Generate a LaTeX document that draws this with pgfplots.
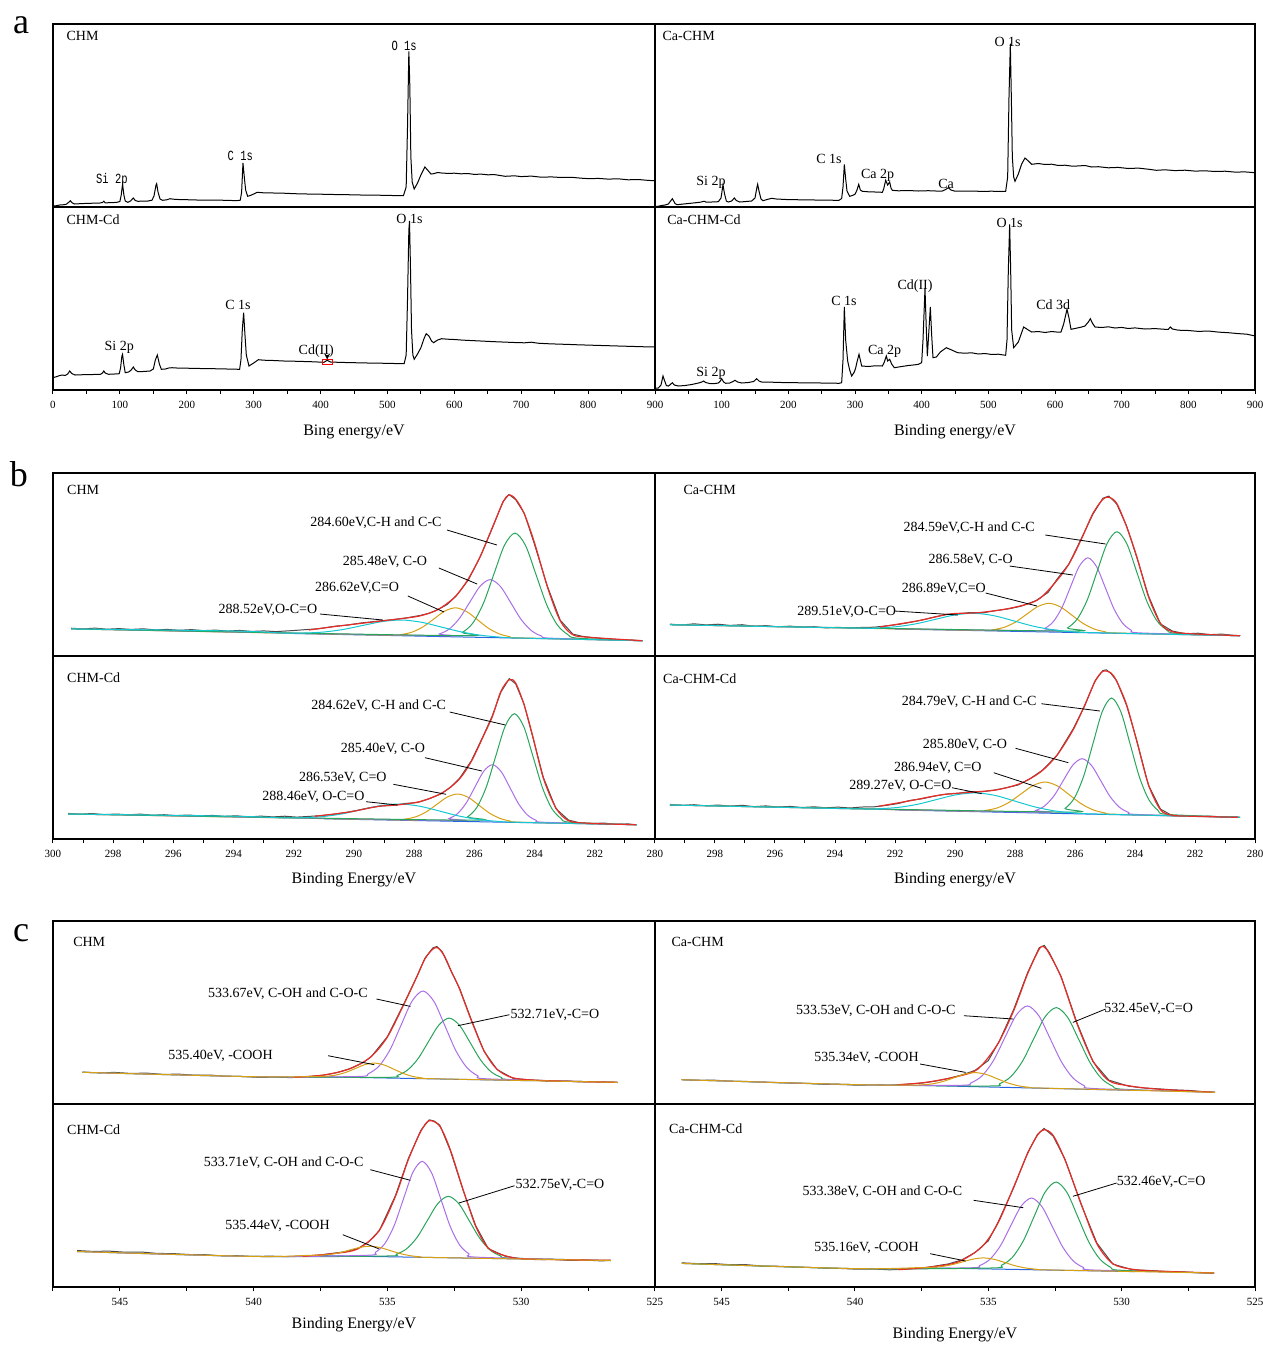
\documentclass[border=0pt]{standalone}
\usepackage{fontspec}
\setmainfont{Liberation Serif}
\newfontfamily\narrowmono{Liberation Mono}[FakeStretch=0.75]
\usepackage{pgfplots}
\pgfplotsset{compat=1.18}
\definecolor{cred}{RGB}{230,45,40}
\definecolor{cgreen}{RGB}{40,165,90}
\definecolor{cpurple}{RGB}{170,110,230}
\definecolor{corange}{RGB}{215,160,20}
\definecolor{ccyan}{RGB}{20,200,210}
\definecolor{cblue}{RGB}{40,100,225}
\definecolor{craw}{RGB}{75,75,75}
\pgfplotsset{
 panel/.style={scale only axis, height=91.5pt, ymin=0, ymax=183, ytick=\empty, clip=false,
   axis line style={line width=0.6pt, black}, every tick/.style={black, line width=0.5pt},
   tick align=outside, major tick length=2.2pt, minor tick length=1.8pt,
   tick label style={font=\fontsize{5.5}{6}\selectfont},
   /pgf/number format/assume math mode=true, anchor=north west},
 toprow/.style={xtick=\empty, minor xtick=\empty},
 botrow/.style={xtick pos=bottom},
 lw/.style={width=301pt}, rw/.style={width=300pt},
 surv/.style={xmin=0, xmax=900, xtick={0,100,...,900}, minor x tick num=1},
 cs/.style={xmin=280, xmax=300, x dir=reverse, xtick={280,282,...,300}, minor x tick num=1},
 os/.style={xmin=525, xmax=547.5, x dir=reverse, xtick={525,530,...,545}, minor xtick={527.5,532.5,537.5,542.5,547.5}},
 spec/.style={sharp plot, black, line width=0.5pt, mark=none},
 comp/.style={smooth, line width=0.5pt, mark=none},
 raw/.style={sharp plot, craw, line width=0.5pt, mark=none},
 env/.style={smooth, cred, line width=0.6pt, mark=none},
 bg/.style={sharp plot, cblue, line width=0.5pt, mark=none},
}
\tikzset{ann/.style={font=\fontsize{7}{8}\selectfont, inner sep=0pt},
 pname/.style={font=\fontsize{7}{8}\selectfont, anchor=west, inner sep=0pt},
 lead/.style={black, line width=0.4pt},
 xl/.style={font=\fontsize{8}{9}\selectfont, inner sep=0pt}}
\begin{document}
\begin{tikzpicture}
\path[use as bounding box] (0,0) rectangle (631.5pt,-672.5pt);
\node[font=\fontsize{18}{20}\selectfont, inner sep=0pt] at (10.5pt,-12.5pt) {a};
\node[font=\fontsize{18}{20}\selectfont, inner sep=0pt] at (9.5pt,-237pt) {b};
\node[font=\fontsize{18}{20}\selectfont, inner sep=0pt] at (10.5pt,-466.5pt) {c};

% ---------------- a1 CHM survey
\begin{axis}[panel, lw, surv, toprow, at={(26.5pt,-12pt)}]
\addplot[spec] coordinates {(0,1.0)(5,1.3)(10,2.0)(15,2.2)(20,2.8)(24,5.0)(26,6.3)(28,4.5)(32,3.0)(40,3.3)(50,3.6)(60,3.8)(70,4.0)(74,4.5)(76,5.8)(78,4.2)(85,4.3)(95,4.6)(100,5.5)(102,12)(104,23)(106,12)(108,6)(112,4.7)(116,6)(120,9.0)(123,6.5)(127,5.7)(135,5.9)(142,6.0)(148,6.8)(151,11)(154,22)(155,23.3)(157,15)(160,8)(164,6.7)(170,7.2)(175,8.3)(180,7.8)(190,7.4)(200,7.3)(215,7.0)(230,6.8)(245,7.0)(260,6.6)(275,6.4)(280,6.8)(282,15)(284,44)(286,30)(288,17)(291,10.7)(295,11.5)(300,13)(305,14.7)(315,14.2)(330,14.0)(345,13.8)(361,13.3)(380,13.0)(400,12.8)(420,12.5)(440,12.3)(460,12.0)(480,11.9)(500,11.6)(515,11.4)(524,11.5)(528,20)(530,80)(532,155.7)(533.5,120)(535,50)(537,25)(540,18)(545,24)(550,32)(556,40)(560,37)(565,33)(569,33.3)(575,34.5)(581,34)(590,33.6)(600,33.8)(610,33.2)(620,33.5)(630,32.6)(640,32.9)(650,32.2)(660,32.4)(676,30.7)(690,31.2)(700,30.4)(715,30.9)(730,29.8)(745,30.1)(760,29.5)(775,29.7)(790,28.8)(802,28.3)(815,28.6)(830,27.9)(845,28.2)(860,27.2)(875,27.5)(890,26.6)(900,26.3)};
\node[pname] at (rel axis cs:0.022,0.934) {CHM};
\node[ann, font=\narrowmono\fontsize{7}{8}\selectfont] at (axis cs:525,161) {O 1s};
\node[ann, font=\narrowmono\fontsize{7}{8}\selectfont] at (axis cs:280,51) {C 1s};
\node[ann, font=\narrowmono\fontsize{7}{8}\selectfont] at (axis cs:88,27) {Si 2p};
\end{axis}

% ---------------- a2 Ca-CHM survey
\begin{axis}[panel, rw, surv, toprow, at={(327.5pt,-12pt)}]
\addplot[spec] coordinates {(0,0.5)(5,0.8)(10,1.5)(15,2.0)(20,3.0)(24,6.5)(26,8.3)(28,6)(30,3.5)(33,2.3)(40,2.8)(50,3.5)(60,4.2)(68,4.8)(72,5.5)(74,5.7)(76,5.0)(85,5.0)(95,5.3)(99,9)(102,22.3)(104,14)(107,6)(110,5)(115,6)(119,9.0)(122,6.5)(127,5)(135,5.4)(145,6.0)(150,9)(153,20)(154,22.7)(156,16)(159,8)(162,6.3)(168,7.5)(175,8.7)(182,8.0)(200,7.4)(220,7.2)(240,7.0)(260,6.8)(276,6.7)(280,8.5)(282,20)(284,42.7)(286,28)(288,16)(292,10.7)(296,11.5)(300,12.7)(303,17)(305.6,22.7)(308,17)(311,15.7)(320,15.2)(330,15.0)(341,14.7)(343,18)(346,26.7)(349,22)(352,25)(354,19)(356,16.7)(365,16.2)(380,16.5)(395,16.0)(410,16.3)(425,15.9)(431,16.0)(436,17.5)(440,19.3)(444,17)(449,16.0)(460,15.8)(475,16.0)(490,15.6)(505,15.8)(520,15.5)(526,15.7)(529,30)(531,110)(533,163.3)(534.5,110)(536,50)(538,30)(540,25.7)(545,33)(550,43)(555,49)(560,46)(565,42.7)(575,43.5)(585,42.5)(595,42.8)(605,41.5)(615,41.8)(625,40.9)(633,41.0)(645,41.5)(655,40.0)(665,40.3)(680,39.2)(695,39.6)(710,38.5)(725,38.9)(740,37.8)(752,36.7)(765,37.2)(780,36.4)(795,36.8)(810,35.9)(825,36.2)(840,35.5)(855,35.8)(870,34.9)(885,35.1)(900,34.3)};
\node[pname] at (rel axis cs:0.012,0.934) {Ca-CHM};
\node[ann] at (axis cs:529,165) {O 1s};
\node[ann] at (axis cs:261,48) {C 1s};
\node[ann] at (axis cs:334,31.7) {Ca 2p};
\node[ann] at (axis cs:436.6,23.3) {Ca};
\node[ann] at (axis cs:84,25) {Si 2p};
\end{axis}

% ---------------- a3 CHM-Cd survey
\begin{axis}[panel, lw, surv, botrow, at={(26.5pt,-103.5pt)}]
\addplot[spec] coordinates {(0,12.3)(6,13.5)(10,14.5)(14,15)(18,14.5)(22,16)(25,19)(28,16.5)(33,15)(45,15.3)(60,15.5)(71,15.7)(74,17)(76,19)(78,17)(83,15.7)(92,16.0)(99,16.3)(101,22)(103,34)(104,35.7)(106,25)(108,17.3)(113,18)(117,20)(120,23)(123,20)(127,18.3)(135,18.5)(145,19)(150,21)(153,30)(156,35)(159,26)(162,20.7)(168,21)(173,22)(178,22.3)(185,22.0)(200,21.8)(220,21.5)(240,21.3)(260,21.0)(279,20.7)(281,30)(283,60)(285,77.3)(287,55)(289,35)(293,24)(300,27)(307,30.3)(315,29.8)(330,29.5)(345,29.0)(360,28.8)(375,28.5)(390,28.2)(405,27.7)(410,29.7)(415,28.0)(430,27.6)(450,27.3)(470,27.0)(490,26.8)(510,26.5)(525,26.3)(528,35)(530,90)(532,160)(533,169)(534.5,120)(536,60)(538,35)(540,30.7)(545,36)(550,42.3)(555,52)(558,56.3)(562,54)(566,49)(569,47.3)(575,50)(581,51.3)(590,50.8)(600,50.5)(610,50.0)(620,49.6)(630,49.3)(645,48.8)(660,48.3)(675,47.9)(690,47.5)(705,47.2)(715,47.8)(725,46.8)(739,46.3)(755,45.9)(770,45.6)(785,45.2)(800,44.9)(815,44.6)(830,44.3)(845,44.0)(860,43.7)(875,43.4)(890,43.1)(900,43.0)};
\node[pname] at (rel axis cs:0.022,0.929) {CHM-Cd};
\node[ann] at (axis cs:533,170.7) {O 1s};
\node[ann] at (axis cs:276.6,85) {C 1s};
\node[ann] at (axis cs:99,42.3) {Si 2p};
\node[ann] at (axis cs:393.5,39) {Cd(II)};
\draw[red, line width=0.5pt] (axis cs:403.6,25.7) rectangle (axis cs:417.5,30.5);
\draw[black, line width=0.4pt, -stealth] (axis cs:410,35.5) -- (axis cs:410,30.5);
\node[xl] at ([yshift=-21pt]rel axis cs:0.5,0) {Bing energy/eV};
\end{axis}

% ---------------- a4 Ca-CHM-Cd survey
\begin{axis}[panel, rw, surv, botrow, at={(327.5pt,-103.5pt)}, xticklabels={{},100,200,300,400,500,600,700,800,900}]
\addplot[spec] coordinates {(0,1.7)(5,2)(9,5)(12,14)(14,10)(17,4.5)(20,4)(23,5.5)(26,7.3)(29,5)(35,4)(45,4.5)(55,5.5)(62,6.5)(67,7.3)(70,8)(73,9)(76,7.5)(82,6.5)(88,6.3)(95,7)(98,9)(100,11.3)(103,8)(106,6.7)(112,7)(117,8.5)(120,9.7)(124,8)(130,7)(140,7.5)(148,8.5)(152.5,11.3)(156,9)(160,8)(175,7.8)(190,7.5)(210,7.3)(230,7.1)(250,7.0)(265,6.9)(276,6.7)(280,7.3)(282,30)(284,83)(286,50)(289,29)(292,20)(295,14)(299,18)(301,22)(303,28)(306,35.7)(308,30)(310,24)(320,23.5)(330,24.2)(341,24.0)(344,28)(347,34)(349,29)(352,30.7)(355,26)(359,22.3)(370,23.5)(380,24.5)(390,25.2)(395,25.7)(400,27.3)(402,50)(405,101.7)(407,60)(408.5,34)(410,50)(413,83)(415,55)(417,32.3)(422,33)(428,38)(437,42.3)(445,40)(454,37.3)(465,36.8)(475,37.2)(485,36.0)(495,36.5)(505,35.5)(515,35.8)(526,34.7)(528,50)(530,120)(532,165.7)(533.5,120)(535,60)(538,42.3)(545,48)(553,63)(560,60)(565,58)(575,58.5)(585,57.5)(595,58.5)(605,57.8)(609,58)(613,66)(618,80.7)(621,72)(624,60.7)(630,61.5)(640,63)(645,64)(650,68)(653,71.3)(656,67)(660,63)(670,62.5)(680,63.2)(690,62.0)(700,62.6)(710,61.5)(720,62.1)(735,61.0)(750,61.4)(765,60.7)(770,60.7)(773,63)(776,61)(785,59.8)(800,59.5)(815,58.6)(830,59.0)(845,57.9)(860,57.3)(875,56.4)(888,55.8)(900,54.0)};
\node[pname] at (rel axis cs:0.02,0.929) {Ca-CHM-Cd};
\node[ann] at (axis cs:532,167.3) {O 1s};
\node[ann] at (axis cs:283.5,89) {C 1s};
\node[ann] at (axis cs:390,104) {Cd(II)};
\node[ann] at (axis cs:597.4,85.7) {Cd 3d};
\node[ann] at (axis cs:344.4,38.3) {Ca 2p};
\node[ann] at (axis cs:84,16.7) {Si 2p};
\node[xl] at ([yshift=-21pt]rel axis cs:0.5,0) {Binding energy/eV};
\end{axis}

% ---------------- b1 CHM C1s
\begin{axis}[panel, lw, cs, toprow, at={(26.5pt,-236.5pt)}]
\addplot[raw] coordinates {(299.4,27.8)(299.0,27.1)(298.6,27.9)(298.2,26.8)(297.8,27.4)(297.4,26.6)(297.0,27.2)(296.6,26.1)(296.2,26.6)(295.8,25.7)(295.4,26.4)(295.0,25.4)(294.6,25.9)(294.2,24.9)(293.8,25.6)(293.4,24.6)(293.0,25.1)(292.6,24.4)(292.0,25.5)(291.6,26.4)(291.2,27.2)(290.6,29.9)(290.2,31.0)(289.8,32.9)(289.2,34.9)(288.8,36.1)(288.3,37.9)(287.8,40.6)(287.5,42.8)(287.2,46.6)(286.9,51.6)(286.6,60.2)(286.2,76.1)(285.8,99.5)(285.4,128.2)(285.05,154.4)(284.85,161.5)(284.63,156.4)(284.34,142.6)(284.0,111.3)(283.57,69.4)(283.15,35.9)(282.73,21.9)(282.4,19.6)(282.0,18.1)(281.6,17.2)(281.2,16.3)(280.8,15.9)(280.4,15.3)};
\addplot[bg] coordinates {(280.4,15.3)(292,22.5)};
\addplot[comp, corange] coordinates {(280.4,15.3)(284.46,18.1)(284.82,19.3)(285.18,22.2)(285.54,27.9)(285.90,36.3)(286.26,44.5)(286.62,48.2)(286.98,45.0)(287.34,37.2)(287.70,29.3)(288.06,24.0)(288.42,21.5)(288.78,20.8)(299.4,27.1)};
\addplot[comp, cpurple] coordinates {(280.4,15.3)(283.43,17.8)(283.77,19.9)(284.11,25.5)(284.45,36.6)(284.79,53.2)(285.13,69.4)(285.47,76.4)(285.81,69.8)(286.15,54.0)(286.49,37.9)(286.83,27.1)(287.17,22.0)(287.51,20.4)(299.4,27.1)};
\addplot[comp, cgreen] coordinates {(280.4,15.3)(282.55,17.8)(282.90,21.5)(283.25,31.3)(283.60,51.4)(283.95,81.2)(284.30,110.4)(284.65,122.9)(285.00,110.8)(285.35,82.1)(285.70,52.7)(286.05,33.0)(286.40,23.6)(286.75,20.4)(299.4,27.1)};
\addplot[comp, ccyan] coordinates {(280.4,15.3)(284.5,18.0)(285.15,18.9)(285.8,20.8)(286.45,24.2)(287.1,29.0)(287.75,33.7)(288.4,36.0)(289.05,34.5)(289.7,30.6)(290.35,26.6)(291.0,24.0)(291.65,23.0)(292.3,22.9)(294,25.0)(299.4,27.1)};
\addplot[env] coordinates {(291.5,26.0)(290.58,29.7)(289.18,34.7)(288.34,37.7)(287.78,40.3)(287.22,46.3)(286.66,58.7)(286.24,75.3)(285.82,98.7)(285.40,128.7)(285.05,153.7)(284.86,161)(284.63,157)(284.34,142)(283.99,112)(283.57,68.7)(283.15,35.3)(282.73,21.3)(282.17,18.7)(280.42,15.3)};
\node[pname] at (rel axis cs:0.023,0.907) {CHM};
\node[ann] at (axis cs:289.27,133) {284.60eV,C-H and C-C};
\draw[lead] (axis cs:286.91,126) -- (axis cs:285.25,111);
\node[ann] at (axis cs:288.97,94) {285.48eV, C-O};
\draw[lead] (axis cs:287.18,88) -- (axis cs:285.91,72);
\node[ann] at (axis cs:289.90,68) {286.62eV,C=O};
\draw[lead] (axis cs:288.21,60) -- (axis cs:287.01,44);
\node[ann] at (axis cs:292.86,46) {288.52eV,O-C=O};
\draw[lead] (axis cs:291.13,42) -- (axis cs:289.04,36);
\end{axis}

% ---------------- b2 Ca-CHM C1s
\begin{axis}[panel, rw, cs, toprow, at={(327.5pt,-236.5pt)}]
\addplot[raw] coordinates {(299.5,31.9)(299.1,31.0)(298.7,32.2)(298.3,31.1)(297.9,31.8)(297.5,30.6)(297.1,31.3)(296.7,29.8)(296.3,30.4)(295.9,29.2)(295.5,29.9)(295.1,28.9)(294.7,29.3)(294.3,28.1)(293.9,28.7)(293.5,27.9)(293.1,28.6)(292.7,28.8)(292.3,30.1)(291.9,31.5)(291.5,33.6)(291.1,36.0)(290.7,38.9)(290.3,41.6)(289.9,42.1)(289.5,43.5)(289.1,43.0)(288.7,45.1)(288.2,47.2)(287.8,49.8)(287.3,55.4)(286.9,63.5)(286.6,76.8)(286.2,92.1)(285.8,116.8)(285.4,142.0)(285.07,157.8)(284.87,159.9)(284.61,152.0)(284.28,130.1)(283.94,98.6)(283.55,60.1)(283.15,32.0)(282.75,24.9)(282.3,22.2)(281.9,22.8)(281.5,21.4)(281.1,21.9)(280.7,20.6)(280.5,20.4)};
\addplot[bg] coordinates {(280.5,20.3)(292,27.0)};
\addplot[comp, corange] coordinates {(280.5,20.3)(284.61,23.0)(284.985,24.2)(285.36,27.0)(285.735,32.7)(286.11,41.0)(286.485,49.1)(286.86,52.7)(287.235,49.5)(287.61,41.8)(287.985,33.9)(288.36,28.7)(288.735,26.3)(289.11,25.6)(299.5,31.3)};
\addplot[comp, cpurple] coordinates {(280.5,20.3)(283.83,23.1)(284.12,25.7)(284.41,32.7)(284.70,47.1)(284.99,68.4)(285.28,89.3)(285.57,98.2)(285.86,89.6)(286.15,69.1)(286.44,48.1)(286.73,34.1)(287.02,27.4)(287.31,25.1)(299.5,31.3)};
\addplot[comp, cgreen] coordinates {(280.5,20.3)(282.62,22.7)(282.95,26.2)(283.28,35.7)(283.61,55.1)(283.94,83.9)(284.27,112.1)(284.6,124.3)(284.93,112.5)(285.26,84.7)(285.59,56.2)(285.92,37.2)(286.25,28.1)(286.58,25.0)(299.5,31.3)};
\addplot[comp, ccyan] coordinates {(280.5,20.3)(285.45,23.4)(286.10,24.3)(286.75,26.3)(287.40,29.9)(288.05,35.2)(288.70,40.3)(289.35,42.7)(290.00,41.1)(290.65,36.7)(291.30,32.2)(291.95,29.3)(292.60,28.1)(293.25,27.9)(299.5,31.3)};
\addplot[env] coordinates {(292.5,29.0)(291.22,35.3)(290.17,42)(289.24,43.3)(288.18,47.7)(287.25,56)(286.59,76)(286.19,92.7)(285.80,116)(285.40,142.7)(285.07,156.7)(284.87,158.7)(284.61,152.7)(284.28,129.3)(283.94,99.3)(283.55,59.3)(283.15,32.7)(282.75,24.3)(281.96,22)(280.5,20.3)};
\node[pname] at (rel axis cs:0.047,0.907) {Ca-CHM};
\node[ann] at (axis cs:289.53,128) {284.59eV,C-H and C-C};
\draw[lead] (axis cs:286.99,121) -- (axis cs:284.98,112);
\node[ann] at (axis cs:289.48,96) {286.58eV, C-O};
\draw[lead] (axis cs:288.18,90) -- (axis cs:286.07,81);
\node[ann] at (axis cs:290.37,67) {286.89eV,C=O};
\draw[lead] (axis cs:288.98,63) -- (axis cs:287.27,50);
\node[ann] at (axis cs:293.61,44) {289.51eV,O-C=O};
\draw[lead] (axis cs:292.02,45) -- (axis cs:289.90,41);
\end{axis}

% ---------------- b3 CHM-Cd C1s
\begin{axis}[panel, lw, cs, botrow, at={(26.5pt,-328pt)}]
\addplot[raw] coordinates {(299.5,25.6)(299.1,24.8)(298.7,25.5)(298.3,24.4)(297.9,25.0)(297.5,24.2)(297.1,24.9)(296.7,23.8)(296.3,24.3)(295.9,23.4)(295.5,24.0)(295.1,23.1)(294.7,23.6)(294.3,22.7)(293.9,23.2)(293.5,22.0)(293.1,22.9)(292.7,22.1)(292.3,22.8)(291.9,21.9)(291.5,22.6)(291.1,23.4)(290.7,24.6)(290.3,26.4)(289.9,28.6)(289.5,31.2)(289.1,33.0)(288.7,33.6)(288.3,35.6)(287.9,36.4)(287.5,40.2)(287.1,45.3)(286.8,51.5)(286.5,60.4)(286.1,78.3)(285.7,103.5)(285.4,123.6)(285.12,146.9)(284.84,160.4)(284.63,155.2)(284.35,135.0)(284.06,101.8)(283.71,61.7)(283.29,30.3)(282.87,18.9)(282.5,16.2)(282.1,15.4)(281.7,16.0)(281.3,14.6)(280.9,15.1)(280.6,14.2)};
\addplot[bg] coordinates {(280.6,14.3)(291,20.2)};
\addplot[comp, corange] coordinates {(280.6,14.3)(284.45,16.8)(284.80,17.9)(285.15,20.6)(285.50,25.9)(285.85,33.8)(286.20,41.6)(286.55,45.0)(286.90,42.0)(287.25,34.6)(287.60,27.1)(287.95,22.2)(288.30,19.9)(288.65,19.2)(299.5,25.0)};
\addplot[comp, cpurple] coordinates {(280.6,14.3)(283.66,16.7)(283.95,18.7)(284.24,24.1)(284.53,35.1)(284.82,51.4)(285.11,67.4)(285.40,74.3)(285.69,67.8)(285.98,52.1)(286.27,36.1)(286.56,25.4)(286.85,20.4)(287.14,18.7)(299.5,25.0)};
\addplot[comp, cgreen] coordinates {(280.6,14.3)(282.81,16.8)(283.12,20.5)(283.43,30.6)(283.74,51.4)(284.05,82.2)(284.36,112.4)(284.67,125.3)(284.98,112.7)(285.29,82.9)(285.60,52.4)(285.91,32.0)(286.22,22.3)(286.53,18.9)(299.5,25.0)};
\addplot[comp, ccyan] coordinates {(280.6,14.3)(284.55,16.7)(285.20,17.6)(285.85,19.5)(286.50,22.9)(287.15,27.9)(287.80,32.7)(288.45,35.0)(289.10,33.5)(289.75,29.4)(290.40,25.1)(291.05,22.4)(291.70,21.3)(292.35,21.1)(294,22.8)(299.5,25.0)};
\addplot[env] coordinates {(291.3,22.7)(290.16,27)(289.18,32.7)(288.48,34.3)(287.78,37.7)(287.08,46)(286.52,59.3)(286.10,77.7)(285.68,104.3)(285.40,122.7)(285.12,147.7)(284.84,159.3)(284.63,156)(284.35,134.3)(284.06,102.7)(283.71,61)(283.29,31)(282.87,18.3)(282.17,15.7)(280.63,14.3)};
\node[pname] at (rel axis cs:0.023,0.88) {CHM-Cd};
\node[ann] at (axis cs:289.18,133) {284.62eV, C-H and C-C};
\draw[lead] (axis cs:286.82,127) -- (axis cs:284.97,114);
\node[ann] at (axis cs:289.04,90.3) {285.40eV, C-O};
\draw[lead] (axis cs:287.64,81.3) -- (axis cs:285.75,68);
\node[ann] at (axis cs:290.37,61.3) {286.53eV, C=O};
\draw[lead] (axis cs:288.69,54.7) -- (axis cs:286.94,44.7);
\node[ann] at (axis cs:291.35,42.3) {288.46eV, O-C=O};
\draw[lead] (axis cs:289.6,37.3) -- (axis cs:288.55,34);
\node[xl] at ([yshift=-20.5pt]rel axis cs:0.5,0) {Binding Energy/eV};
\end{axis}

% ---------------- b4 Ca-CHM-Cd C1s
\begin{axis}[panel, rw, cs, botrow, at={(327.5pt,-328pt)}, xticklabels={280,282,284,286,288,290,292,294,296,298,{}}]
\addplot[raw] coordinates {(299.5,34.6)(299.1,33.6)(298.7,34.3)(298.3,33.2)(297.9,34.0)(297.5,32.9)(297.1,33.7)(296.7,32.4)(296.3,33.1)(295.9,32.0)(295.5,32.6)(295.1,31.5)(294.7,32.2)(294.3,31.2)(293.9,31.9)(293.5,31.0)(293.1,32.0)(292.7,32.2)(292.3,33.6)(291.9,35.4)(291.5,38.6)(291.1,40.2)(290.7,42.8)(290.3,44.9)(289.9,45.6)(289.5,47.5)(289.1,47.2)(288.7,48.9)(288.3,51.2)(287.9,54.0)(287.5,60.3)(287.1,68.5)(286.6,83.6)(286.06,110.2)(285.67,133.6)(285.33,158.4)(285.07,168.5)(284.95,169.2)(284.80,165.4)(284.61,158.3)(284.28,133.6)(283.94,98.5)(283.55,53.6)(283.15,29.9)(282.75,23.2)(282.3,23.4)(281.9,22.4)(281.5,22.9)(281.1,21.8)(280.7,22.3)(280.5,21.6)};
\addplot[bg] coordinates {(280.5,21.7)(292,29.1)};
\addplot[comp, corange] coordinates {(280.5,21.7)(284.59,24.7)(284.99,26.0)(285.39,29.1)(285.79,35.2)(286.19,44.2)(286.59,53.1)(286.99,57.0)(287.39,53.6)(287.79,45.3)(288.19,36.8)(288.59,31.1)(288.99,28.6)(289.39,27.8)(299.5,34.0)};
\addplot[comp, cpurple] coordinates {(280.5,21.7)(283.90,24.5)(284.21,26.5)(284.52,31.8)(284.83,42.4)(285.14,58.2)(285.45,73.6)(285.76,80.3)(286.07,74.0)(286.38,59.0)(286.69,43.6)(287.00,33.4)(287.31,28.5)(287.62,26.9)(299.5,34.0)};
\addplot[comp, cgreen] coordinates {(280.5,21.7)(282.92,24.6)(283.23,28.6)(283.54,39.4)(283.85,61.7)(284.16,94.7)(284.47,127.1)(284.78,141.0)(285.09,127.5)(285.40,95.5)(285.71,62.9)(286.02,41.0)(286.33,30.6)(286.64,27.0)(299.5,34.0)};
\addplot[comp, ccyan] coordinates {(280.5,21.7)(285.40,25.1)(286.05,26.1)(286.70,28.2)(287.35,32.2)(288.00,37.9)(288.65,43.5)(289.30,46.1)(289.95,44.3)(290.60,39.6)(291.25,34.7)(291.90,31.6)(292.55,30.3)(293.20,30.1)(299.5,34.0)};
\addplot[env] coordinates {(292.55,32.7)(291.49,38.3)(290.43,44.3)(289.37,47)(288.58,49.3)(287.78,56)(287.12,67.7)(286.59,84.3)(286.06,109.3)(285.67,134.3)(285.33,157.7)(285.07,167.7)(284.80,166)(284.61,157.7)(284.28,134.3)(283.94,97.7)(283.55,54.3)(283.15,29.3)(282.75,23.7)(281.96,22.7)(280.57,21.7)};
\node[pname] at (rel axis cs:0.013,0.874) {Ca-CHM-Cd};
\node[ann] at (axis cs:289.53,137.3) {284.79eV, C-H and C-C};
\draw[lead] (axis cs:287.12,135.3) -- (axis cs:285.17,128);
\node[ann] at (axis cs:289.67,94) {285.80eV, C-O};
\draw[lead] (axis cs:287.98,90.7) -- (axis cs:286.22,76.3);
\node[ann] at (axis cs:290.57,71.3) {286.94eV, C=O};
\draw[lead] (axis cs:288.71,66.3) -- (axis cs:287.12,50.7);
\node[ann] at (axis cs:291.82,53) {289.27eV, O-C=O};
\draw[lead] (axis cs:290.1,51.3) -- (axis cs:289.11,45.3);
\node[xl] at ([yshift=-20.5pt]rel axis cs:0.5,0) {Binding energy/eV};
\end{axis}

% ---------------- c1 CHM O1s
\begin{axis}[panel, lw, os, toprow, at={(26.5pt,-460.5pt)}]
\addplot[raw] coordinates {(546.4,31.9)(545.8,31.2)(545.2,31.6)(544.6,30.6)(544.0,30.9)(543.4,29.6)(542.8,29.9)(542.2,28.8)(541.6,28.9)(541.0,27.6)(540.4,27.5)(539.8,26.6)(539.2,26.9)(538.6,26.4)(538.0,27.3)(537.4,28.8)(536.9,31.3)(536.4,35.4)(535.9,41.5)(535.6,47.5)(535.0,67.4)(534.4,99.4)(533.9,127.5)(533.6,145.8)(533.3,156.2)(533.15,157.5)(532.95,152.2)(532.6,131.6)(532.3,115.5)(531.86,83.9)(531.39,52.7)(530.9,34.4)(530.3,25.6)(529.7,24.2)(529.0,22.8)(528.4,23.0)(527.8,22.1)(527.2,22.3)(526.4,21.5)};
\addplot[bg] coordinates {(529.5,23.25)(537.5,27.25)};
\addplot[comp, cgreen] coordinates {(526.4,21.7)(530.35,24.4)(530.74,26.6)(531.13,32.3)(531.52,44.1)(531.91,61.5)(532.30,78.5)(532.69,85.9)(533.08,78.9)(533.47,62.2)(533.86,45.2)(534.25,33.9)(534.64,28.5)(535.03,26.7)(540,27.3)(546.4,31.7)};
\addplot[comp, cpurple] coordinates {(526.4,21.7)(531.21,25.1)(531.62,28.2)(532.03,36.4)(532.44,53.2)(532.85,78.1)(533.26,102.5)(533.67,113.0)(534.08,102.9)(534.49,78.9)(534.90,54.4)(535.31,38.0)(535.72,30.2)(536.13,27.5)(540,27.3)(546.4,31.7)};
\addplot[env] coordinates {(538.48,26.7)(537.38,29)(536.43,35)(535.64,46.7)(535.01,66.7)(534.38,100)(533.91,126.7)(533.6,145)(533.3,155)(533.1,156)(532.85,147)(532.6,132)(532.33,116.7)(531.86,83.3)(531.39,53.3)(530.91,35)(530.28,26)(529.02,23.3)(526.42,21.7)};
\addplot[comp, corange] coordinates {(526.4,21.7)(533.32,25.3)(533.68,26.0)(534.04,27.5)(534.40,30.5)(534.76,34.8)(535.12,39.0)(535.48,40.9)(535.84,39.4)(536.20,35.5)(536.56,31.6)(536.92,29.0)(537.28,27.8)(537.64,27.5)(540,27.3)(546.4,31.7)};
\node[pname] at (rel axis cs:0.033,0.885) {CHM};
\node[ann] at (axis cs:538.72,110) {533.67eV, C-OH and C-O-C};
\draw[lead] (axis cs:535.41,105) -- (axis cs:534.14,97.6);
\node[ann] at (axis cs:528.74,89.3) {532.71eV,-C=O};
\draw[lead] (axis cs:530.44,89.3) -- (axis cs:532.37,78.3);
\node[ann] at (axis cs:541.24,47.6) {535.40eV, -COOH};
\draw[lead] (axis cs:537.22,48.3) -- (axis cs:535.49,39.3);
\end{axis}

% ---------------- c2 Ca-CHM O1s
\begin{axis}[panel, rw, os, toprow, at={(327.5pt,-460.5pt)}]
\addplot[raw] coordinates {(546.5,24.5)(545.9,23.6)(545.3,23.9)(544.7,22.8)(544.1,22.6)(543.5,21.9)(542.9,21.3)(542.3,20.9)(541.7,20.4)(541.1,19.6)(540.5,19.5)(539.9,18.8)(539.3,19.2)(538.7,18.9)(538.1,19.7)(537.5,20.9)(537.0,22.8)(536.5,25.5)(536.0,29.0)(535.5,33.6)(535.0,43.5)(534.6,62.2)(534.05,94.5)(533.53,131.2)(533.09,156.4)(532.9,158.6)(532.71,151.2)(532.27,127.5)(531.67,80.8)(531.08,42.5)(530.48,23.9)(529.74,17.8)(529.2,16.1)(528.7,15.3)(528.1,14.2)(527.5,13.6)(527.0,12.5)(526.5,11.8)};
\addplot[bg] coordinates {(529.5,13.6)(537.5,18.6)};
\addplot[comp, cgreen] coordinates {(526.5,11.7)(529.90,14.7)(530.325,17.7)(530.75,25.3)(531.175,40.9)(531.60,64.0)(532.025,86.6)(532.45,96.4)(532.875,87.1)(533.30,65.1)(533.725,42.5)(534.15,27.5)(534.575,20.3)(535.00,18.0)(540,19.4)(546.5,24.3)};
\addplot[comp, cpurple] coordinates {(526.5,11.7)(530.98,15.4)(531.405,18.4)(531.83,26.2)(532.255,42.0)(532.68,65.3)(533.105,88.2)(533.53,98.1)(533.955,88.8)(534.38,66.4)(534.805,43.6)(535.23,28.3)(535.655,21.1)(536.08,18.7)(540,19.4)(546.5,24.3)};
\addplot[env] coordinates {(538.37,19.3)(537.33,21.7)(536.14,27.7)(535.39,35)(534.65,60)(534.05,93.3)(533.53,130)(533.09,155)(532.9,157)(532.71,150)(532.27,126.7)(531.67,80)(531.08,43.3)(530.48,23.3)(529.74,18.3)(528.70,15)(526.53,11.7)};
\addplot[comp, corange] coordinates {(526.5,11.7)(533.07,16.0)(533.47,16.7)(533.87,18.2)(534.27,21.1)(534.67,25.3)(535.07,29.5)(535.47,31.4)(535.87,30.0)(536.27,26.4)(536.67,22.8)(537.07,20.3)(537.47,19.2)(537.87,19.0)(540,19.4)(546.5,24.3)};
\node[pname] at (rel axis cs:0.027,0.885) {Ca-CHM};
\node[ann] at (axis cs:539.22,93.3) {533.53eV, C-OH and C-O-C};
\draw[lead] (axis cs:535.92,88.3) -- (axis cs:534.06,85);
\node[ann] at (axis cs:528.99,95) {532.45eV,-C=O};
\draw[lead] (axis cs:530.6,95) -- (axis cs:531.83,81.6);
\node[ann] at (axis cs:539.57,46) {535.34eV, -COOH};
\draw[lead] (axis cs:537.56,40) -- (axis cs:535.85,31.6);
\end{axis}

% ---------------- c3 CHM-Cd O1s
\begin{axis}[panel, lw, os, botrow, at={(26.5pt,-552pt)}]
\addplot[raw] coordinates {(546.6,36.5)(546.0,35.6)(545.4,35.9)(544.8,34.8)(544.2,35.0)(543.6,33.6)(543.0,33.4)(542.4,32.5)(541.8,32.3)(541.2,31.2)(540.6,31.3)(540.0,30.5)(539.4,30.9)(538.8,30.4)(538.2,31.0)(537.6,31.8)(537.1,33.5)(536.6,35.2)(536.1,38.6)(535.7,45.2)(535.3,56.6)(534.7,91.5)(534.22,128.4)(533.75,156.8)(533.44,167.2)(533.25,166.0)(533.04,161.8)(532.65,136.5)(532.17,96.6)(531.70,61.3)(531.23,38.4)(530.6,30.8)(530.0,28.3)(529.4,27.3)(528.8,27.7)(528.2,26.6)(527.6,26.9)(527.0,26.1)(526.65,26.6)};
\addplot[bg] coordinates {(529.5,27.8)(537.5,31.4)};
\addplot[comp, cgreen] coordinates {(526.65,26.5)(530.38,28.9)(530.77,31.1)(531.16,36.9)(531.55,48.7)(531.94,66.2)(532.33,83.3)(532.72,90.7)(533.11,83.7)(533.50,66.9)(533.89,49.7)(534.28,38.3)(534.67,32.8)(535.06,31.0)(540,30.6)(546.6,35.5)};
\addplot[comp, cpurple] coordinates {(526.65,26.5)(531.60,29.8)(531.95,33.1)(532.30,42.0)(532.65,60.4)(533.00,87.6)(533.35,114.2)(533.70,125.7)(534.05,114.6)(534.40,88.2)(534.75,61.3)(535.10,43.3)(535.45,34.7)(535.80,31.7)(540,30.6)(546.6,35.5)};
\addplot[env] coordinates {(538.17,30.7)(537.06,33.3)(536.12,38)(535.33,55.7)(534.70,90.7)(534.22,127.3)(533.75,155.7)(533.44,166.3)(533.04,160.7)(532.65,137.3)(532.17,97.3)(531.70,60.7)(531.23,39)(530.60,31.3)(529.81,28)(526.65,26.7)};
\addplot[comp, corange] coordinates {(526.65,26.5)(533.39,29.6)(533.765,30.2)(534.14,31.3)(534.515,33.4)(534.89,36.4)(535.265,39.4)(535.64,40.8)(536.015,39.7)(536.39,37.1)(536.765,34.4)(537.14,32.6)(537.515,31.8)(537.89,31.7)(540,30.6)(546.6,35.5)};
\node[pname] at (rel axis cs:0.023,0.858) {CHM-Cd};
\node[ann] at (axis cs:538.88,124) {533.71eV, C-OH and C-O-C};
\draw[lead] (axis cs:535.64,117.3) -- (axis cs:534.14,106.7);
\node[ann] at (axis cs:528.55,102.3) {532.75eV,-C=O};
\draw[lead] (axis cs:530.25,101.3) -- (axis cs:532.33,84);
\node[ann] at (axis cs:539.11,60.7) {535.44eV, -COOH};
\draw[lead] (axis cs:536.67,52.3) -- (axis cs:535.33,38.3);
\node[xl] at ([yshift=-19pt]rel axis cs:0.5,0) {Binding Energy/eV};
\end{axis}

% ---------------- c4 Ca-CHM-Cd O1s
\begin{axis}[panel, rw, os, botrow, at={(327.5pt,-552pt)}]
\addplot[raw] coordinates {(546.5,24.2)(545.9,23.4)(545.3,23.5)(544.7,22.3)(544.1,22.4)(543.5,21.0)(542.9,20.8)(542.3,20.1)(541.7,19.6)(541.1,18.9)(540.5,18.5)(539.9,17.8)(539.3,18.0)(538.7,17.2)(538.1,17.9)(537.5,18.8)(537.0,20.9)(536.5,23.1)(536.0,27.0)(535.5,34.5)(535.0,46.2)(534.65,64.0)(534.05,99.2)(533.53,134.1)(533.16,152.5)(532.91,158.6)(532.57,150.9)(532.12,127.5)(531.52,82.6)(530.93,44.0)(530.33,22.9)(529.6,17.3)(529.0,16.6)(528.4,15.6)(527.8,15.3)(527.2,14.3)(526.53,13.9)};
\addplot[bg] coordinates {(529.5,15.4)(537.5,19.3)};
\addplot[comp, cpurple] coordinates {(526.53,14)(531.04,17.0)(531.43,19.5)(531.82,26.2)(532.21,40.0)(532.60,60.4)(532.99,80.4)(533.38,89.0)(533.77,80.8)(534.16,61.2)(534.55,41.1)(534.94,27.7)(535.33,21.4)(535.72,19.2)(540,18.4)(546.49,23.6)};
\addplot[comp, cgreen] coordinates {(526.53,14)(530.00,16.7)(530.41,19.7)(530.82,28.0)(531.23,44.9)(531.64,69.9)(532.05,94.5)(532.46,105.0)(532.87,94.9)(533.28,70.7)(533.69,46.1)(534.10,29.6)(534.51,21.7)(534.92,19.0)(540,18.4)(546.49,23.6)};
\addplot[env] coordinates {(538.37,17.3)(537.18,20)(536.14,25)(535.25,40)(534.65,63.3)(534.05,100)(533.53,133.3)(533.16,151.7)(532.91,157.3)(532.57,151.7)(532.12,126.7)(531.52,83.3)(530.93,43.3)(530.33,23.3)(529.59,17.7)(528.70,16)(526.53,14)};
\addplot[comp, corange] coordinates {(526.53,14)(532.77,17.1)(533.17,17.7)(533.57,18.9)(533.97,21.1)(534.37,24.4)(534.77,27.6)(535.17,29.1)(535.57,27.9)(535.97,25.1)(536.37,22.3)(536.77,20.4)(537.17,19.6)(537.57,19.4)(540,18.4)(546.49,23.6)};
\node[pname] at (rel axis cs:0.023,0.863) {Ca-CHM-Cd};
\node[ann] at (axis cs:538.97,95) {533.38eV, C-OH and C-O-C};
\draw[lead] (axis cs:535.55,86.7) -- (axis cs:533.69,79.3);
\node[ann] at (axis cs:528.52,105) {532.46eV,-C=O};
\draw[lead] (axis cs:530.19,104) -- (axis cs:531.83,90.7);
\node[ann] at (axis cs:539.57,39.3) {535.16eV, -COOH};
\draw[lead] (axis cs:537.18,33.3) -- (axis cs:535.85,26);
\node[xl] at ([yshift=-24pt]rel axis cs:0.5,0) {Binding Energy/eV};
\end{axis}
\end{tikzpicture}
\end{document}
